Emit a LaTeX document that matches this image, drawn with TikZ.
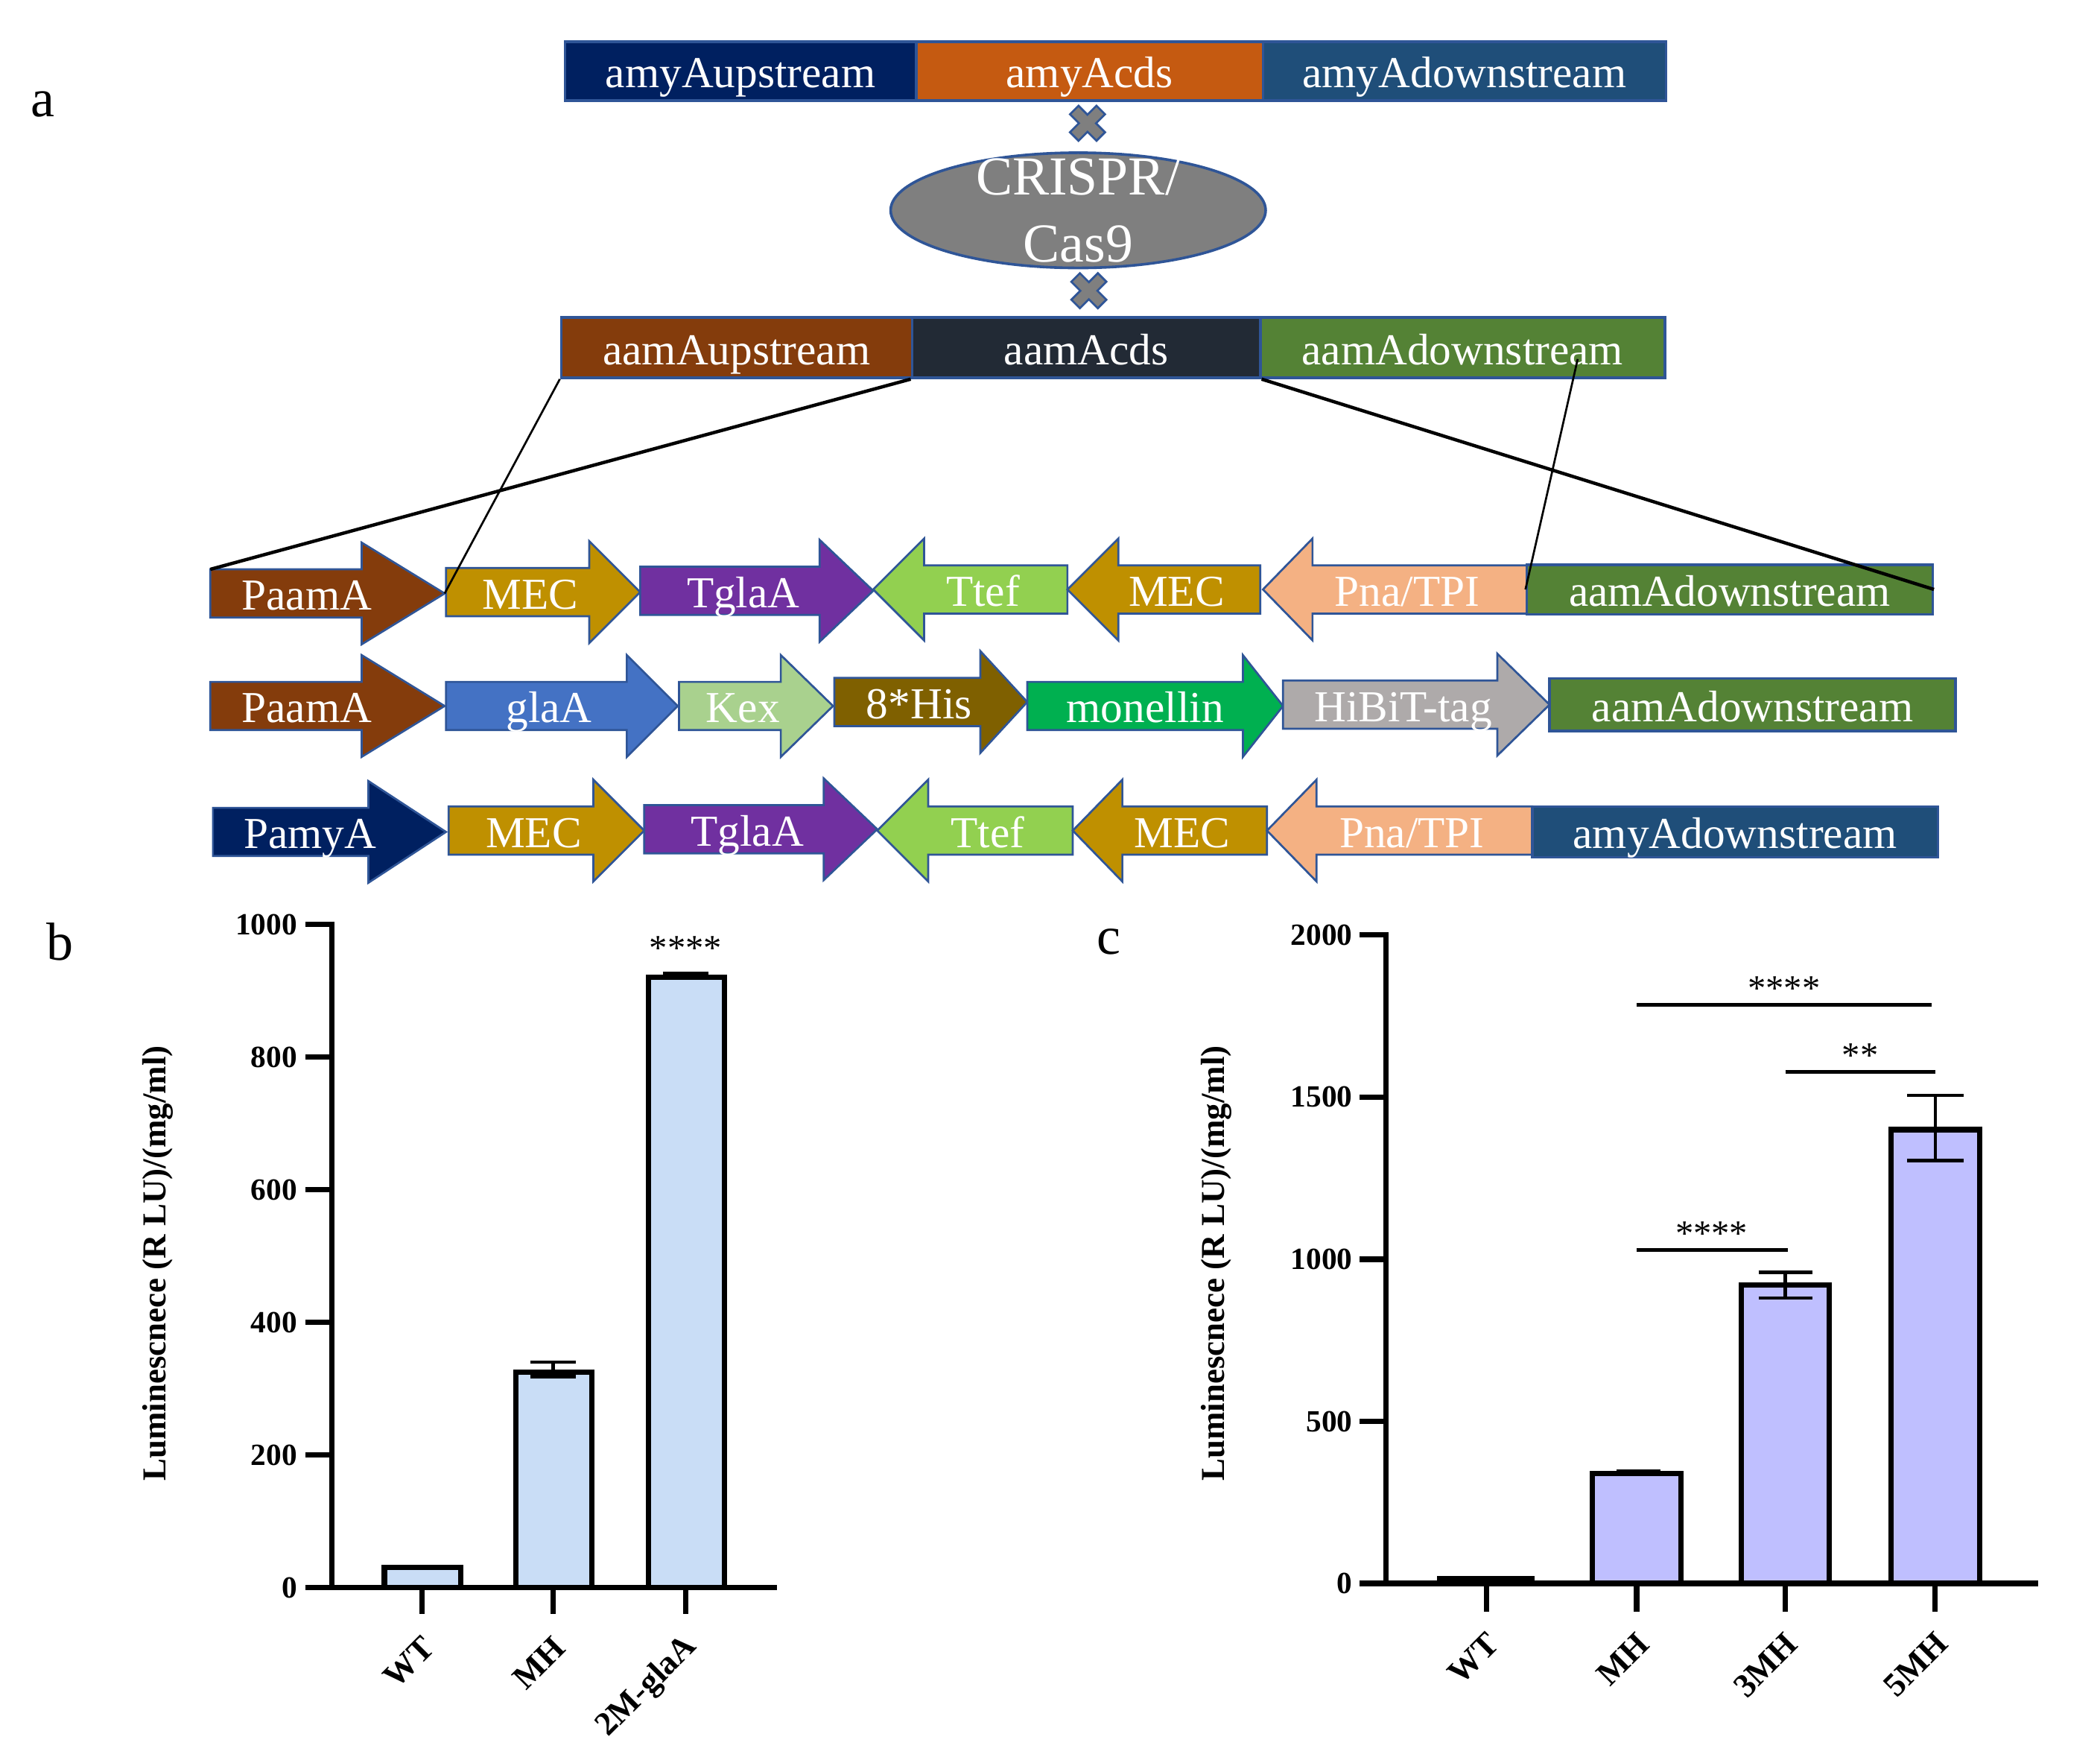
\documentclass[tikz,border=0pt]{standalone}
\usepackage{fontspec}
\setmainfont{Liberation Serif}
\usetikzlibrary{shapes.geometric}

\definecolor{segline}{HTML}{2F5597}
\definecolor{amyup}{HTML}{002060}
\definecolor{amycds}{HTML}{C55A11}
\definecolor{amydown}{HTML}{1F4E79}
\definecolor{aamup}{HTML}{843C0C}
\definecolor{aamcds}{HTML}{222A35}
\definecolor{aamdown}{HTML}{548235}
\definecolor{mec}{HTML}{BF9000}
\definecolor{tgla}{HTML}{7030A0}
\definecolor{ttef}{HTML}{92D050}
\definecolor{pna}{HTML}{F4B183}
\definecolor{gla}{HTML}{4472C4}
\definecolor{kex}{HTML}{A9D18E}
\definecolor{his}{HTML}{7F6000}
\definecolor{mon}{HTML}{00B050}
\definecolor{hibit}{HTML}{AEAAAA}
\definecolor{casgray}{HTML}{7F7F7F}
\definecolor{barb}{HTML}{C9DDF6}
\definecolor{barc}{HTML}{BFBFFF}

\tikzset{
segbox/.style={draw=segline,line width=2pt,minimum height=44pt,inner sep=0pt,text=white,
  font=\fontsize{33}{36}\selectfont,text height=26pt,text depth=1pt},
genetxt/.style={text=white,inner sep=0pt,font=\fontsize{33}{36}\selectfont,text height=26pt,text depth=1pt},
geneshape/.style={draw=segline,line width=1.5pt},
crossmark/.style={draw=segline,fill=casgray,line width=1.5pt},
axisline/.style={line width=4pt},
barbox/.style={draw=black,line width=4pt},
errbar/.style={line width=2.5pt},
ticklab/.style={font=\bfseries\fontsize{23}{25}\selectfont,anchor=east,inner sep=0pt},
catlab/.style={font=\bfseries\fontsize{25}{27}\selectfont,rotate=45,anchor=east,inner sep=0pt},
ylab/.style={font=\bfseries\fontsize{25}{27}\selectfont,rotate=90},
sig/.style={font=\fontsize{27}{29}\selectfont,inner sep=0pt},
panel/.style={font=\fontsize{40}{44}\selectfont,inner sep=0pt},
}

\newcommand{\genearrow}[7]{%
\draw[geneshape,fill=#6]
(#2,#5-18) -- (#3,#5-18) -- (#3,#5-38) -- (#4,#5) -- (#3,#5+38) -- (#3,#5+18) -- (#2,#5+18) -- cycle;
\coordinate (#1-tip) at (#4,#5);
\coordinate (#1-nw) at (#2,#5-18);
\node[genetxt] (#1) at ({(2*#2+#3+#4)/4},#5) {#7};
}

\begin{document}
\begin{tikzpicture}[x=1pt,y=-1pt]
\useasboundingbox (0,0) rectangle (1568,1316);

\node[panel] (pa) at (32,78) {a};
\node[panel] (pb) at (45,703) {b};
\node[panel] (pc) at (828,703) {c};

\node[segbox,fill=amyup,minimum width=262] (amyupbox) at (553,53) {amyAupstream};
\node[segbox,fill=amycds,minimum width=259] (amycdsbox) at (813.5,53) {amyAcds};
\node[segbox,fill=amydown,minimum width=301] (amydownbox) at (1093.5,53) {amyAdownstream};

\node[ellipse,draw=segline,fill=casgray,line width=2pt,minimum width=280,minimum height=86,inner sep=0pt] (cas) at (805,157) {};
\node[text=white,align=center,font=\fontsize{41}{50}\selectfont] (castxt) at (cas.center) {CRISPR/\\Cas9};

\foreach \p in {(812,92),(813,217)}
\draw[crossmark,shift={\p},rotate=45]
(4.5,14) -- (4.5,4.5) -- (14,4.5) -- (14,-4.5) -- (4.5,-4.5) -- (4.5,-14)
-- (-4.5,-14) -- (-4.5,-4.5) -- (-14,-4.5) -- (-14,4.5) -- (-4.5,4.5) -- (-4.5,14) -- cycle;

\node[segbox,fill=aamup,minimum width=262,minimum height=45] (aamupbox) at (550,259.5) {aamAupstream};
\node[segbox,fill=aamcds,minimum width=260,minimum height=45] (aamcdsbox) at (811,259.5) {aamAcds};
\node[segbox,fill=aamdown,minimum width=302,minimum height=45] (aamdownbox) at (1092,259.5) {aamAdownstream};

\genearrow{pa1}{157}{270}{332}{443}{aamup}{PaamA}
\genearrow{mec1}{333}{440}{478}{442}{mec}{MEC}
\genearrow{tg1}{478}{612}{652}{441}{tgla}{TglaA}
\genearrow{tt1}{797}{690}{652}{440}{ttef}{Ttef}
\genearrow{mec2}{941}{835}{797}{440}{mec}{MEC}
\genearrow{pn1}{1140}{980}{943}{440}{pna}{Pna/TPI}
\node[segbox,fill=aamdown,minimum width=303,minimum height=37] (dn1) at (1291.5,440) {aamAdownstream};

\genearrow{pa2}{157}{270}{332}{527}{aamup}{PaamA}
\genearrow{gl2}{333}{468}{506}{527}{gla}{glaA}
\genearrow{kx2}{507}{583}{622}{527}{kex}{Kex}
\genearrow{hs2}{623}{732}{767}{524}{his}{8*His}
\genearrow{mn2}{767}{928}{958}{527}{mon}{monellin}
\genearrow{hb2}{958}{1118}{1157}{526}{hibit}{HiBiT-tag}
\node[segbox,fill=aamdown,minimum width=303,minimum height=39] (dn2) at (1308.5,526) {aamAdownstream};

\genearrow{pm3}{159}{275}{333}{621}{amyup}{PamyA}
\genearrow{mec3}{335}{443}{481}{620}{mec}{MEC}
\genearrow{tg3}{481}{615}{655}{619}{tgla}{TglaA}
\genearrow{tt3}{801}{693}{655}{620}{ttef}{Ttef}
\genearrow{mec4}{946}{838}{801}{620}{mec}{MEC}
\genearrow{pn3}{1144}{983}{946}{620}{pna}{Pna/TPI}
\node[segbox,fill=amydown,minimum width=303,minimum height=38] (dn3) at (1295.5,621) {amyAdownstream};

\coordinate (cut) at (1178,268);
\draw[line width=1.5pt] (aamupbox.south west) -- (pa1-tip);
\draw[line width=2.5pt] (aamcdsbox.south west) -- (pa1-nw);
\draw[line width=2.5pt] (aamcdsbox.south east) -- (dn1.east);
\draw[line width=1.5pt] (cut) -- (dn1.west);

% panel b
\node[ylab] (ylb) at (118,943) {Luminescnece (R LU)/(mg/ml)};
\foreach \v in {0,200,...,1000} {
\draw[axisline] (228,1185-\v*0.495) -- (248,1185-\v*0.495);
\node[ticklab] (bt\v) at (222,1185-\v*0.495) {\v};
}
\draw[barbox,fill=barb] (287,1185) rectangle (344,1185-30*0.495);
\draw[barbox,fill=barb] (385,1185) rectangle (442,1185-325*0.495);
\draw[barbox,fill=barb] (484,1185) rectangle (541,1185-920*0.495);
\draw[errbar] (413,1185-318*0.495) -- (413,1185-340*0.495);
\draw[errbar] (396,1185-340*0.495) -- (430,1185-340*0.495);
\draw[errbar] (396,1185-318*0.495) -- (430,1185-318*0.495);
\draw[errbar] (495,1185-926*0.495) -- (529,1185-926*0.495);
\draw[axisline] (248,688) -- (248,1185);
\draw[axisline] (228,1185) -- (580,1185);
\foreach \x/\t in {315/WT,413/MH,512/2M-glaA} {
\draw[axisline] (\x,1185) -- (\x,1205);
\node[catlab] (bc\x) at (\x+5,1226) {\t};
}
\node[sig] (bs) at (512,708) {****};

% panel c
\node[ylab] (ylc) at (908,943) {Luminescnece (R LU)/(mg/ml)};
\foreach \v in {0,500,...,2000} {
\draw[axisline] (1015,1182-\v*0.242) -- (1035,1182-\v*0.242);
\node[ticklab] (ct\v) at (1010,1182-\v*0.242) {\v};
}
\draw[barbox,fill=barc] (1075,1182) rectangle (1144,1182-15*0.242);
\draw[barbox,fill=barc] (1189,1182) rectangle (1255,1182-340*0.242);
\draw[barbox,fill=barc] (1300,1182) rectangle (1366,1182-920*0.242);
\draw[barbox,fill=barc] (1412,1182) rectangle (1478,1182-1400*0.242);
\draw[errbar] (1207,1182-346*0.242) -- (1240,1182-346*0.242);
\draw[errbar] (1333,1182-880*0.242) -- (1333,1182-960*0.242);
\draw[errbar] (1313,1182-960*0.242) -- (1353,1182-960*0.242);
\draw[errbar] (1313,1182-880*0.242) -- (1353,1182-880*0.242);
\draw[errbar] (1445,1182-1305*0.242) -- (1445,1182-1505*0.242);
\draw[errbar] (1424,1182-1505*0.242) -- (1466,1182-1505*0.242);
\draw[errbar] (1424,1182-1305*0.242) -- (1466,1182-1305*0.242);
\draw[axisline] (1035,696) -- (1035,1182);
\draw[axisline] (1015,1182) -- (1522,1182);
\foreach \x/\t in {1110/WT,1222/MH,1333/3MH,1445/5MH} {
\draw[axisline] (\x,1182) -- (\x,1203);
\node[catlab] (cc\x) at (\x+5,1223) {\t};
}
\coordinate (s1a) at (1222,750);
\coordinate (s1b) at (1442,750);
\coordinate (s2a) at (1333,800);
\coordinate (s2b) at (1445,800);
\coordinate (s3a) at (1222,933);
\coordinate (s3b) at (1335,933);
\draw[errbar] (s1a) -- (s1b);
\draw[errbar] (s2a) -- (s2b);
\draw[errbar] (s3a) -- (s3b);
\node[sig] (cs1) at (1332,738) {****};
\node[sig] (cs2) at (1389,788) {**};
\node[sig] (cs3) at (1278,921) {****};
\end{tikzpicture}
\end{document}
